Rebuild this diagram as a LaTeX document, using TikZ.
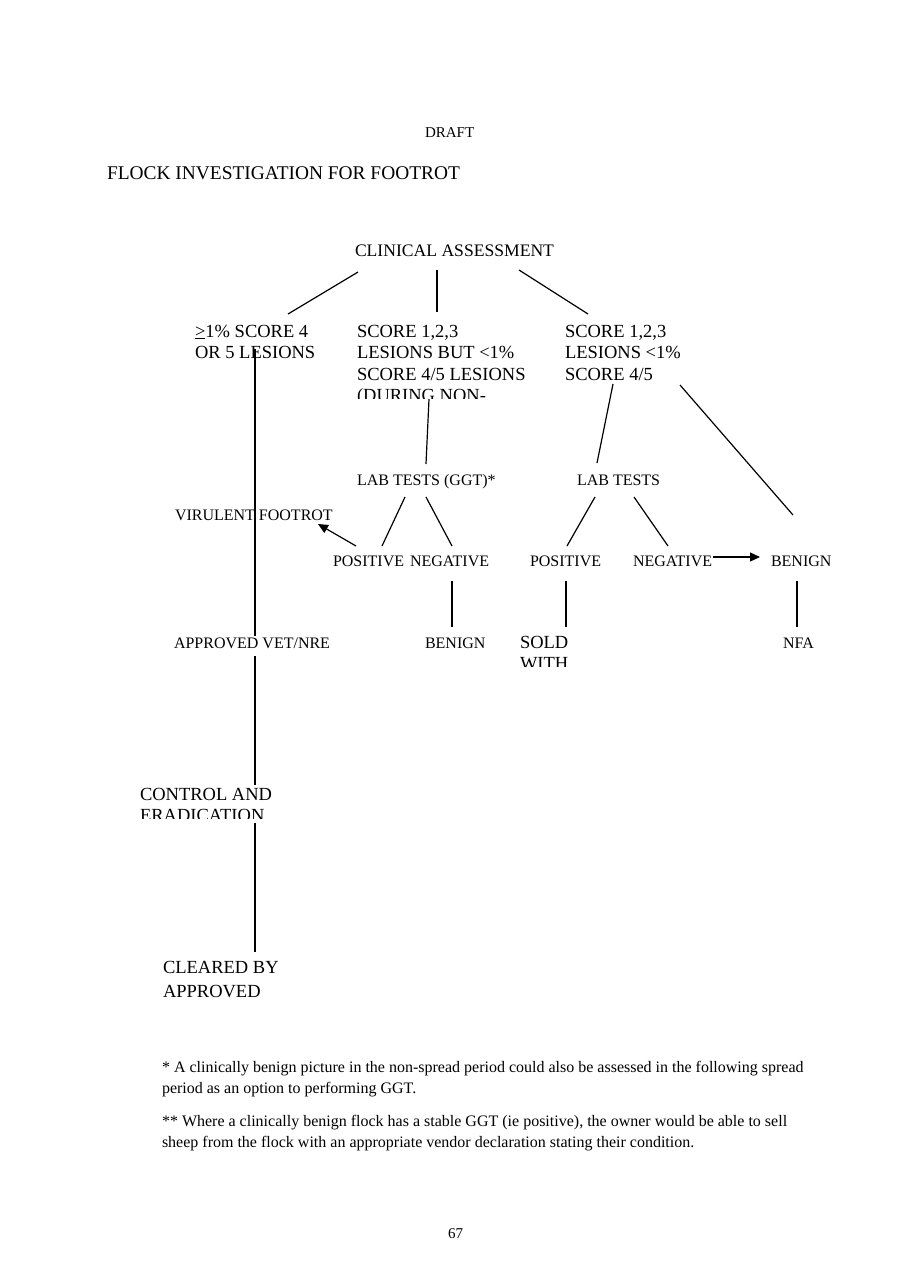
\documentclass[tikz,border=0pt]{standalone}
\usepackage{fontspec}
\setmainfont{Liberation Serif}
\usetikzlibrary{calc,arrows.meta}
\newcommand\bigfnt{\fontsize{18.5}{21.5}\selectfont}
\newcommand\smfnt{\fontsize{16}{19}\selectfont}
\newcommand\ftfnt{\fontsize{16}{19}\selectfont}
\begin{document}
\begin{tikzpicture}[x=1pt,y=-1pt,
  txt/.style={anchor=base west,inner sep=0pt,outer sep=0pt},
  big/.style={txt,font=\bigfnt},
  small/.style={txt,font=\smfnt},
  foot/.style={txt,font=\ftfnt},
  conn/.style={line width=1.2pt},
  arr/.style={conn,-{Triangle[length=10pt,width=9pt]}}]
\fill[white] (0,0) rectangle (900,1279);
\useasboundingbox (0,0) rectangle (900,1279);

% headings
\node[txt,font=\fontsize{15}{18}\selectfont] (draft) at (425,138) {DRAFT};
\node[txt,font=\fontsize{19.4}{23}\selectfont] (title) at (107,179) {FLOCK INVESTIGATION FOR FOOTROT};

% top
\node[txt,font=\fontsize{17.6}{20}\selectfont] (ca) at (355,256) {CLINICAL ASSESSMENT};

% left box
\node[big] (l1) at (195,337) {\underline{>}1\% SCORE 4};
\node[big] (l2) at (195,358.5) {OR 5 LESIONS};

% middle box
\node[big] (m1) at (357,337) {SCORE 1,2,3};
\node[big] (m2) at (357,358.5) {LESIONS BUT <1\%};
\node[big] (m3) at (357,380) {SCORE 4/5 LESIONS};
\begin{scope}
  \clip (340,380) rectangle (560,398.5);
  \node[big] (m4) at (357,401.5) {(DURING NON-};
\end{scope}

% right box
\node[big] (r1) at (565,337) {SCORE 1,2,3};
\node[big] (r2) at (565,358.5) {LESIONS <1\%};
\node[big] (r3) at (565,380) {SCORE 4/5};

% lab tests
\node[small] (lg) at (357,485) {LAB TESTS (GGT)*};
\node[small] (lt) at (577,485) {LAB TESTS};

\node[small] (vf) at (175,520) {VIRULENT FOOTROT};

\node[small] (p1) at (333,566) {POSITIVE};
\node[small] (n1) at (410,566) {NEGATIVE};
\node[small] (p2) at (530,566) {POSITIVE};
\node[small] (n2) at (633,566) {NEGATIVE};
\node[small] (bn) at (771,566) {BENIGN};

\node[small] (av) at (174,648) {APPROVED VET/NRE};
\node[small] (b1) at (425,648) {BENIGN};
\node[small] (nfa) at (783,648) {NFA};
\node[big] (sold) at (520,648) {SOLD};
\begin{scope}
  \clip (500,640) rectangle (600,666.5);
  \node[big] (with) at (520,669.5) {WITH};
\end{scope}

\node[big] (c1) at (140,800) {CONTROL AND};
\begin{scope}
  \clip (120,805) rectangle (320,818.5);
  \node[big] (c2) at (140,821.5) {ERADICATION};
\end{scope}

\node[big] (cl1) at (163,973) {CLEARED BY};
\node[big] (cl2) at (163,997) {APPROVED};

% footnotes
\node[foot] (f1) at (162,1072) {* A clinically benign picture in the non-spread period could also be assessed in the following spread};
\node[foot] (f2) at (162,1093) {period as an option to performing GGT.};
\node[foot] (f3) at (162,1126) {** Where a clinically benign flock has a stable GGT (ie positive), the owner would be able to sell};
\node[foot] (f4) at (162,1147) {sheep from the flock with an appropriate vendor declaration stating their condition.};

\node[txt,font=\fontsize{15}{18}\selectfont] (pg) at (448,1238) {67};

% connectors
\draw[conn] ($(ca.base west)+(3,16)$) -- ($(l1.base west)+(93,-23)$);
\draw[conn] ($(ca.base west)+(82,14)$) -- ($(m1.base west)+(80,-25)$);
\draw[conn] ($(ca.base west)+(164,14)$) -- ($(r1.base west)+(23,-23)$);

\draw[conn] ($(l2.base west)+(60,-10)$) -- ($(vf.base west)+(80,0)$);
\draw[conn] ($(vf.base west)+(80,0)$) -- ($(av.base west)+(81,-12)$);

\draw[conn] ($(m4.base west)+(72,-2.5)$) -- ($(lg.base west)+(69,-21)$);
\draw[conn] ($(r3.base west)+(48,4)$) -- ($(lt.base west)+(20,-22)$);
\draw[conn] ($(r3.base west)+(115,5)$) -- ($(bn.base west)+(22,-51)$);

\draw[conn] ($(lg.base west)+(48,12)$) -- ($(p1.base west)+(49,-20)$);
\draw[conn] ($(lg.base west)+(69,12)$) -- ($(n1.base west)+(42,-20)$);
\draw[conn] ($(lt.base west)+(18,12)$) -- ($(p2.base west)+(37,-20)$);
\draw[conn] ($(lt.base west)+(57,12)$) -- ($(n2.base west)+(35,-20)$);

\draw[arr] ($(p1.base west)+(23,-20)$) -- ($(vf.base west)+(143,4)$);
\draw[arr] ($(n2.base west)+(80,-9)$) -- ($(bn.base west)+(-11,-9)$);

\draw[conn] ($(n1.base west)+(42,15)$) -- ($(b1.base west)+(27,-21)$);
\draw[conn] ($(p2.base west)+(36,15)$) -- ($(sold.base west)+(46,-21)$);
\draw[conn] ($(bn.base west)+(26,15)$) -- ($(nfa.base west)+(14,-21)$);

\draw[conn] ($(av.base west)+(81,8)$) -- ($(c1.base west)+(115,-15)$);
\draw[conn] ($(c2.base west)+(115,1.5)$) -- ($(cl1.base west)+(92,-21)$);
\end{tikzpicture}
\end{document}
